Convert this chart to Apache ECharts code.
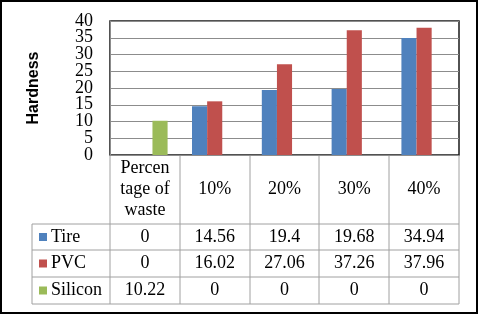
<!DOCTYPE html>
<html><head><meta charset="utf-8">
<script src="https://cdn.jsdelivr.net/npm/echarts@6/dist/echarts.min.js"></script>
<style>html,body{margin:0;padding:0;background:#fff}#c{width:480px;height:315px}</style>
</head><body><div id="c"></div>
<script>
const categories = ["Percen\ntage of\nwaste", "10%", "20%", "30%", "40%"];
const seriesNames = ["Tire", "PVC", "Silicon"];
const tire = [0, 14.56, 19.4, 19.68, 34.94];
const pvc = [0, 16.02, 27.06, 37.26, 37.96];
const silicon = [10.22, 0, 0, 0, 0];
const tableLabels = [
  ["0", "14.56", "19.4", "19.68", "34.94"],
  ["0", "16.02", "27.06", "37.26", "37.96"],
  ["10.22", "0", "0", "0", "0"]
];
const yTicks = [0, 5, 10, 15, 20, 25, 30, 35, 40];
const colors = ["#4F81BD", "#C0504D", "#9BBB59"];
const yAxisTitle = "Hardness";

const W = 480, H = 315;
const gL = 110, gT = 21, gR = 459, gB = 155;
const serif = "'Liberation Serif','Times New Roman',serif";
const fs = 18;

const chart = echarts.init(document.getElementById('c'), null, {renderer: 'canvas'});

const seriesData = [tire, pvc, silicon];
const series = seriesData.map((d, i) => ({
  name: seriesNames[i], type: 'bar', data: d,
  barGap: '0%', barCategoryGap: '35%',
  itemStyle: {color: colors[i]},
  animation: false
}));

chart.setOption({
  animation: false,
  grid: {left: gL, top: gT, right: W - gR, bottom: H - gB, show: true, borderColor: '#1a1a1a', borderWidth: 1.5, backgroundColor: '#fff'},
  xAxis: {type: 'category', data: categories,
    axisLine: {show: true, lineStyle: {color: '#8c8c8c', width: 1}},
    axisTick: {show: false}, axisLabel: {show: false}},
  yAxis: {type: 'value', min: yTicks[0], max: yTicks[yTicks.length - 1], interval: yTicks[1] - yTicks[0],
    name: yAxisTitle, nameLocation: 'middle', nameGap: 68, nameRotate: 90,
    nameTextStyle: {fontFamily: "'Liberation Sans',Arial,sans-serif", fontWeight: 'bold', fontSize: 16, color: '#000'},
    axisLine: {show: true, lineStyle: {color: '#8c8c8c', width: 1}},
    axisTick: {show: false},
    axisLabel: {show: false},
    splitLine: {lineStyle: {color: '#8c8c8c', width: 1}}},
  series: series
});

const g = [];
// y tick labels, placed through the axis scale
yTicks.forEach(v => {
  const y = chart.convertToPixel({yAxisIndex: 0}, v);
  g.push({type: 'text', x: gL - 17, y: y, style: {text: String(v), fontFamily: serif, fontSize: fs, fill: '#000', align: 'right', verticalAlign: 'middle'}});
});

// data table
const colW = (gR - gL) / categories.length;
const rowTops = [224, 250, 277, 304];
const tableLeft = 32;
const lc = '#a0a0a0';
function line(x1, y1, x2, y2) {
  g.push({type: 'line', shape: {x1, y1, x2, y2}, style: {stroke: lc, lineWidth: 1}, silent: true});
}
rowTops.forEach(y => line(tableLeft, y, gR, y));
line(tableLeft, rowTops[0], tableLeft, rowTops[3]);
for (let k = 0; k <= categories.length; k++) {
  const x = Math.round(gL + k * colW);
  line(x, gB, x, rowTops[3]);
}
categories.forEach((c, k) => {
  g.push({type: 'text', x: gL + (k + 0.5) * colW, y: (gB + rowTops[0]) / 2,
    style: {text: c, fontFamily: serif, fontSize: fs, fill: '#000', align: 'center', verticalAlign: 'middle', lineHeight: 21}});
});
seriesNames.forEach((n, r) => {
  const yc = (rowTops[r] + rowTops[r + 1]) / 2;
  g.push({type: 'rect', shape: {x: 39, y: yc - 4, width: 8, height: 8}, style: {fill: colors[r]}});
  g.push({type: 'text', x: 51, y: yc, style: {text: n, fontFamily: serif, fontSize: fs, fill: '#000', align: 'left', verticalAlign: 'middle'}});
  tableLabels[r].forEach((v, k) => {
    g.push({type: 'text', x: gL + (k + 0.5) * colW, y: yc,
      style: {text: v, fontFamily: serif, fontSize: fs, fill: '#000', align: 'center', verticalAlign: 'middle'}});
  });
});
g.push({type: 'rect', shape: {x: 1, y: 1, width: 476, height: 312}, style: {fill: 'none', stroke: '#000', lineWidth: 2}});
chart.setOption({graphic: g});
</script>
</body></html>
